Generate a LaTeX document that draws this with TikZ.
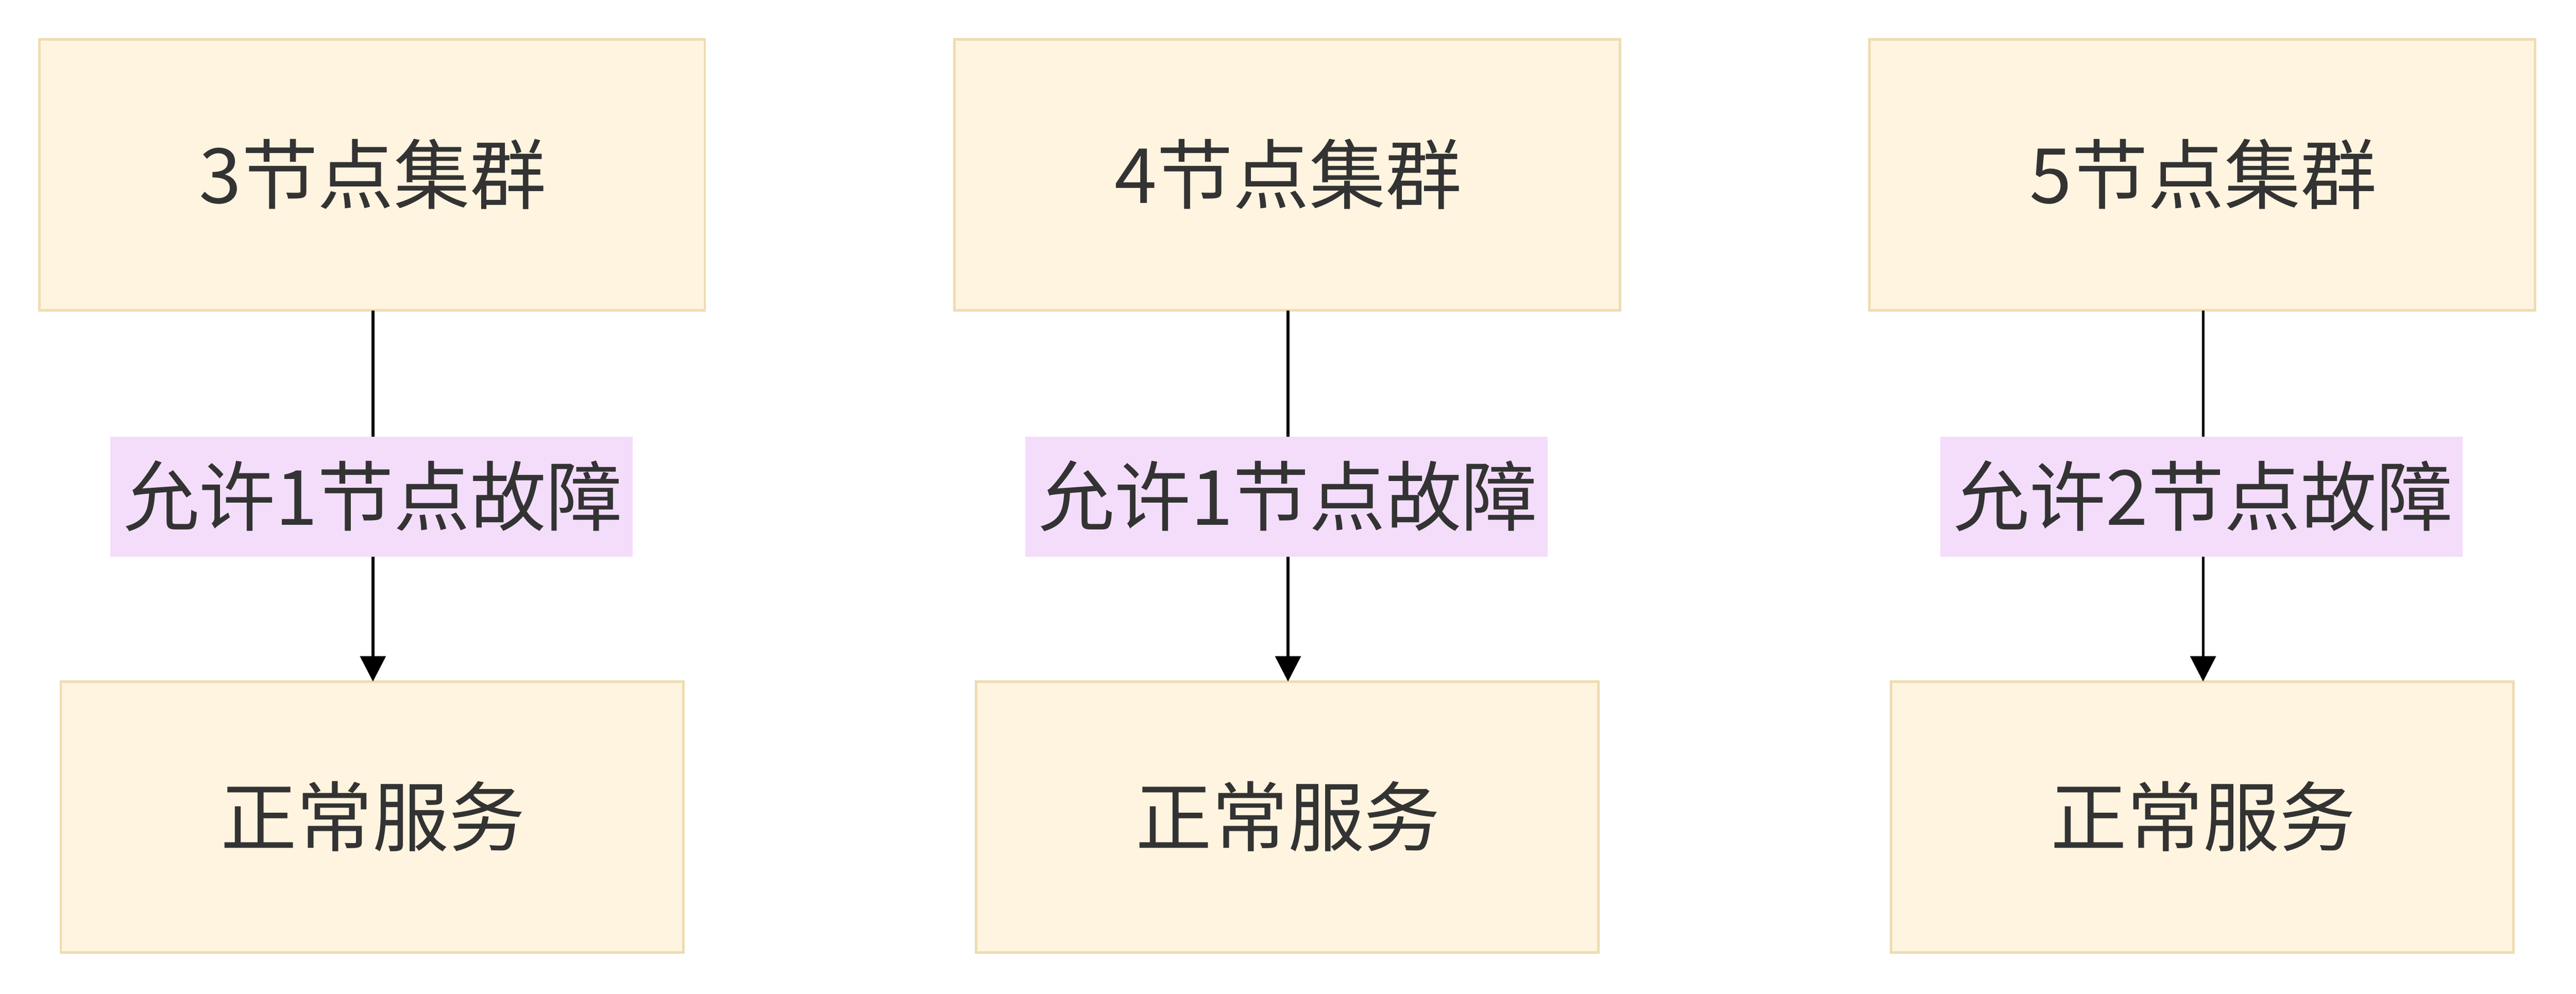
\documentclass[tikz,border=0pt]{standalone}
\usepackage{fontspec}
\newfontfamily\cjk{Noto Sans CJK SC}
\usetikzlibrary{arrows.meta}
\begin{document}
\begin{tikzpicture}[x=0.05cm,y=-0.05cm,
  box/.style={draw=boxline,fill=boxfill,line width=2.2pt,text=txt,font=\cjk\fontsize{66}{76}\selectfont},
  lbl/.style={fill=lblfill,text=txt,inner sep=0pt,font=\cjk\fontsize{66}{76}\selectfont},
  arr/.style={line width=2.4pt,-{Triangle[length=22pt,width=22pt]}}]
\definecolor{boxfill}{HTML}{FFF4DF}
\definecolor{boxline}{HTML}{EEDDB2}
\definecolor{lblfill}{HTML}{F3DDFB}
\definecolor{txt}{HTML}{333333}
\useasboundingbox (0,0) rectangle (1568,605);
\foreach \i/\cx/\t/\l in {1/227/3/1,2/784/4/1,3/1341/5/2}{
  \path[box] (\cx-203,24) rectangle (\cx+202,189);
  \node[text=txt,font=\cjk\fontsize{66}{76}\selectfont] (t\i) at (\cx,106) {\t 节点集群};
  \path[box] (\cx-190,415) rectangle (\cx+189,580);
  \node[text=txt,font=\cjk\fontsize{66}{76}\selectfont] (b\i) at (\cx,497) {正常服务};
  \coordinate (s\i) at (\cx,189);
  \coordinate (e\i) at (\cx,415);
  \fill[lblfill] (\cx-160,266) rectangle (\cx+158,339);
  \draw[line width=2.4pt] (s\i) -- (\cx,266);
  \draw[arr] (\cx,339) -- (e\i);
  \node[text=txt,font=\cjk\fontsize{66}{76}\selectfont] (l\i) at (\cx,302) {允许\l 节点故障};
}
\end{tikzpicture}
\end{document}
